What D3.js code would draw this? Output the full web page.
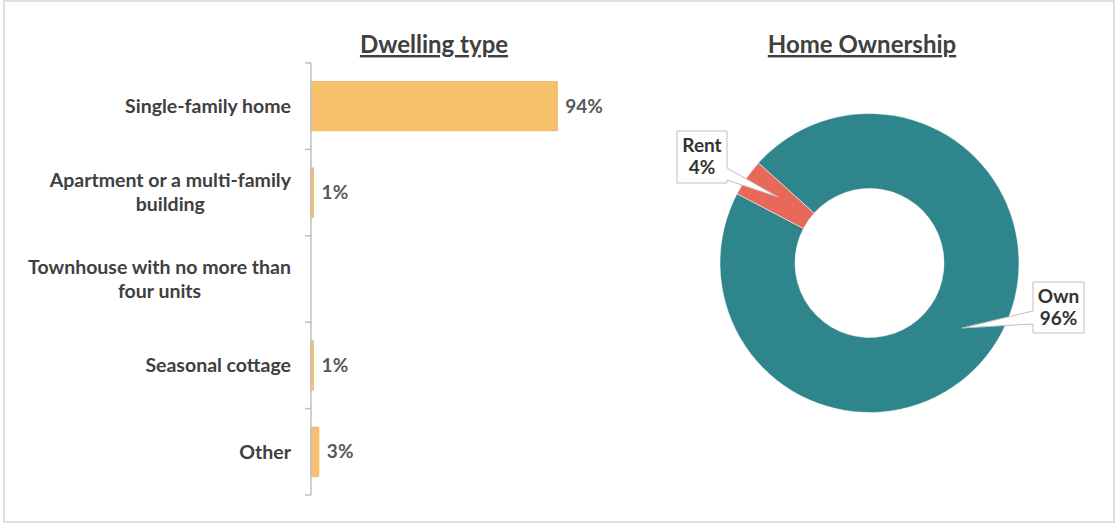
<!DOCTYPE html>
<html>
<head>
<meta charset="utf-8">
<script src="https://cdn.jsdelivr.net/npm/d3@7"></script>
<style>
  html, body { margin: 0; padding: 0; background: #fff; }
  svg { display: block; font-family: Lato, "Open Sans", sans-serif; }
</style>
</head>
<body>
<svg id="chart" width="1117" height="525"></svg>
<script>
// Dwelling type (share of respondents, %)
const dwellingCategories = [
  ["Single-family home"],
  ["Apartment or a multi-family", "building"],
  ["Townhouse with no more than", "four units"],
  ["Seasonal cottage"],
  ["Other"]
];
const dwellingValues = [94, 1, 0, 1, 3];
const dwellingLabels = ["94%", "1%", "", "1%", "3%"];

// Home ownership (%)
const ownershipCategories = ["Own", "Rent"];
const ownershipValues = [96, 4];
const ownershipLabels = ["96%", "4%"];

const svg = d3.select("#chart");
const labelSize = 19, catSize = 19.5, titleSize = 24;

// outer frame
svg.append("rect")
  .attr("x", 4).attr("y", 1).attr("width", 1110).attr("height", 521)
  .attr("fill", "none").attr("stroke", "#e0e0e0").attr("stroke-width", 2);

/* ---------- Dwelling type: horizontal bars ---------- */
const barLeft = 311, barTop = 63, barBottom = 495;
const x = d3.scaleLinear().domain([0, 100]).range([0, 262]);
const y = d3.scaleBand()
  .domain(d3.range(dwellingValues.length))
  .range([barTop, barBottom])
  .paddingInner(0.43).paddingOuter(0.215);

const bars = svg.append("g").attr("transform", `translate(${barLeft},0)`);

bars.append("text")
  .attr("x", 434 - barLeft).attr("y", 53)
  .attr("text-anchor", "middle")
  .attr("font-size", titleSize).attr("font-weight", 700).attr("fill", "#404040")
  .attr("text-decoration", "underline")
  .text("Dwelling type");

bars.selectAll("rect.bar")
  .data(dwellingValues)
  .join("rect")
  .attr("class", "bar")
  .attr("x", 0)
  .attr("y", (d, i) => y(i))
  .attr("width", d => x(d))
  .attr("height", y.bandwidth())
  .attr("fill", "#f7c06b")
  .attr("stroke", d => d > 0 ? "#eab566" : "none")
  .attr("stroke-width", 0.8);

bars.selectAll("text.val")
  .data(dwellingValues)
  .join("text")
  .attr("class", "val")
  .attr("x", d => x(d) + 8)
  .attr("y", (d, i) => y(i) + y.bandwidth() / 2)
  .attr("dy", "0.35em")
  .attr("font-size", labelSize).attr("font-weight", 700).attr("fill", "#595959")
  .text((d, i) => dwellingLabels[i]);

// category axis: line with ticks at band boundaries
const axisG = bars.append("g").attr("stroke", "#bfbfbf").attr("stroke-width", 1.5);
axisG.append("line").attr("x1", 0).attr("x2", 0).attr("y1", barTop).attr("y2", barBottom);
const step = (barBottom - barTop) / dwellingValues.length;
axisG.selectAll("line.tick")
  .data(d3.range(dwellingValues.length + 1))
  .join("line")
  .attr("class", "tick")
  .attr("x1", -6).attr("x2", 0)
  .attr("y1", i => barTop + i * step).attr("y2", i => barTop + i * step);

// category labels: each block is right-aligned against the axis,
// with its lines centred within the block
const labelRight = -20;
bars.selectAll("text.cat")
  .data(dwellingCategories)
  .join("text")
  .attr("class", "cat")
  .attr("text-anchor", "middle")
  .attr("font-size", catSize).attr("font-weight", 700).attr("fill", "#404040")
  .each(function (lines, i) {
    const t = d3.select(this);
    const n = lines.length;
    const cyBand = y(i) + y.bandwidth() / 2;
    const spans = lines.map((ln, k) => t.append("tspan")
      .attr("y", cyBand + (k - (n - 1) / 2) * 24)
      .attr("dy", "0.35em")
      .text(ln));
    const maxW = d3.max(spans, s => s.node().getComputedTextLength());
    spans.forEach(s => s.attr("x", labelRight - maxW / 2));
  });

/* ---------- Home Ownership: donut ---------- */
const cx = 869.5, cy = 263, rOuter = 149.5, rInner = 74.5;
const donut = svg.append("g").attr("transform", `translate(${cx},${cy})`);

svg.append("text")
  .attr("x", 862).attr("y", 53)
  .attr("text-anchor", "middle")
  .attr("font-size", titleSize).attr("font-weight", 700).attr("fill", "#404040")
  .attr("text-decoration", "underline")
  .text("Home Ownership");

const startAngle = -48 * Math.PI / 180;
const pie = d3.pie().sort(null).startAngle(startAngle).endAngle(startAngle + 2 * Math.PI);
const arcs = pie(ownershipValues);
const arc = d3.arc().innerRadius(rInner).outerRadius(rOuter);
const colors = ["#2e868c", "#e8685a"];

donut.selectAll("path.slice")
  .data(arcs)
  .join("path")
  .attr("class", "slice")
  .attr("d", arc)
  .attr("fill", (d, i) => colors[i])
  .attr("stroke", "#ffffff").attr("stroke-width", 0.5);

// callout labels with pointers into their slices
const callouts = [
  { i: 1, box: [677, 131, 50, 52], side: "right", base: [168, 180], tip: [778, 197] },
  { i: 0, box: [1033, 282, 51, 51], side: "left", base: [311, 324], tip: [962, 328] }
];
callouts.forEach(c => {
  const [bx, by, bw, bh] = c.box;
  const tip = c.tip;
  let p;
  if (c.side === "right") {
    p = `M${bx},${by}H${bx + bw}V${c.base[0]}L${tip[0]},${tip[1]}L${bx + bw},${c.base[1]}V${by + bh}H${bx}Z`;
  } else {
    p = `M${bx},${by}H${bx + bw}V${by + bh}H${bx}V${c.base[1]}L${tip[0]},${tip[1]}L${bx},${c.base[0]}Z`;
  }
  svg.append("path").attr("d", p)
    .attr("fill", "#ffffff").attr("stroke", "#bfbfbf").attr("stroke-width", 1);
  const t = svg.append("text")
    .attr("text-anchor", "middle")
    .attr("font-size", labelSize).attr("font-weight", 700).attr("fill", "#333333");
  [ownershipCategories[c.i], ownershipLabels[c.i]].forEach((ln, k) => {
    t.append("tspan").attr("x", bx + bw / 2).attr("y", by + 21 + k * 22).text(ln);
  });
});
</script>
</body>
</html>
